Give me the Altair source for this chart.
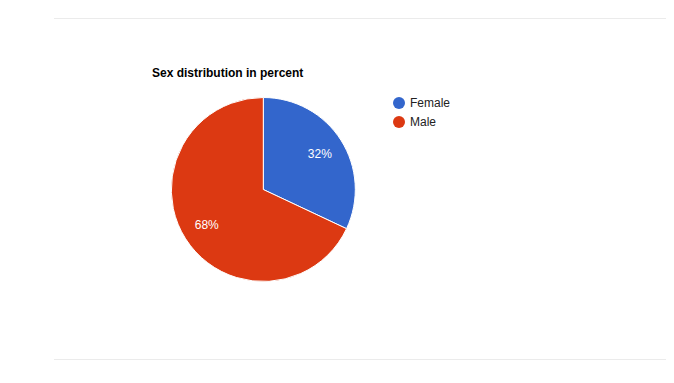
import altair as alt
import pandas as pd

categories = ["Female", "Male"]
values = [32, 68]
labels = ["32%", "68%"]
colors = ["#3366cc", "#dc3912"]
title_text = "Sex distribution in percent"

df = pd.DataFrame({"sex": categories, "value": values, "label": labels,
                   "order": list(range(len(categories)))})

W, H = 658, 367
CX, CY = 255.3, 181.5
R = 92

base = alt.Chart(df)

color = alt.Color("sex:N", sort=categories,
                  scale=alt.Scale(domain=categories, range=colors),
                  legend=alt.Legend(orient="none", legendX=385, legendY=89,
                                    title=None, symbolType="circle", symbolSize=144,
                                    symbolStrokeWidth=0, labelFontSize=12,
                                    labelFont="Liberation Sans", labelColor="#222222",
                                    labelOffset=5, rowPadding=7))

pie = base.mark_arc(stroke="white", strokeWidth=1).encode(
    theta=alt.Theta("value:Q", stack=True),
    color=color,
    order=alt.Order("order:Q"),
    x=alt.value(CX), y=alt.value(CY),
    radius=alt.value(R),
)

txt = base.mark_text(font="Liberation Sans", fontSize=12, color="white",
                     align="center", baseline="middle").encode(
    theta=alt.Theta("value:Q", stack=True),
    order=alt.Order("order:Q"),
    text="label:N",
    x=alt.value(CX), y=alt.value(CY),
    radius=alt.value(67),
)

one = alt.Chart(alt.Data(values=[{"a": 1}]))
title = one.mark_text(font="Liberation Sans", fontSize=12, fontWeight="bold",
                      color="#000000", align="left", baseline="alphabetic").encode(
    x=alt.value(144), y=alt.value(68.5), text=alt.value(title_text))

rule_top = one.mark_rule(color="#ebebeb", strokeWidth=1).encode(
    x=alt.value(46), x2=alt.value(658), y=alt.value(10.5))
rule_bot = one.mark_rule(color="#ebebeb", strokeWidth=1).encode(
    x=alt.value(46), x2=alt.value(658), y=alt.value(351.5))

chart = alt.layer(rule_top, rule_bot, pie, txt, title).properties(
    width=W, height=H, padding=0, autosize=alt.AutoSizeParams(type="none")
).configure_view(stroke=None)

chart.save("out.html", embed_options={"renderer": "svg", "actions": False})
